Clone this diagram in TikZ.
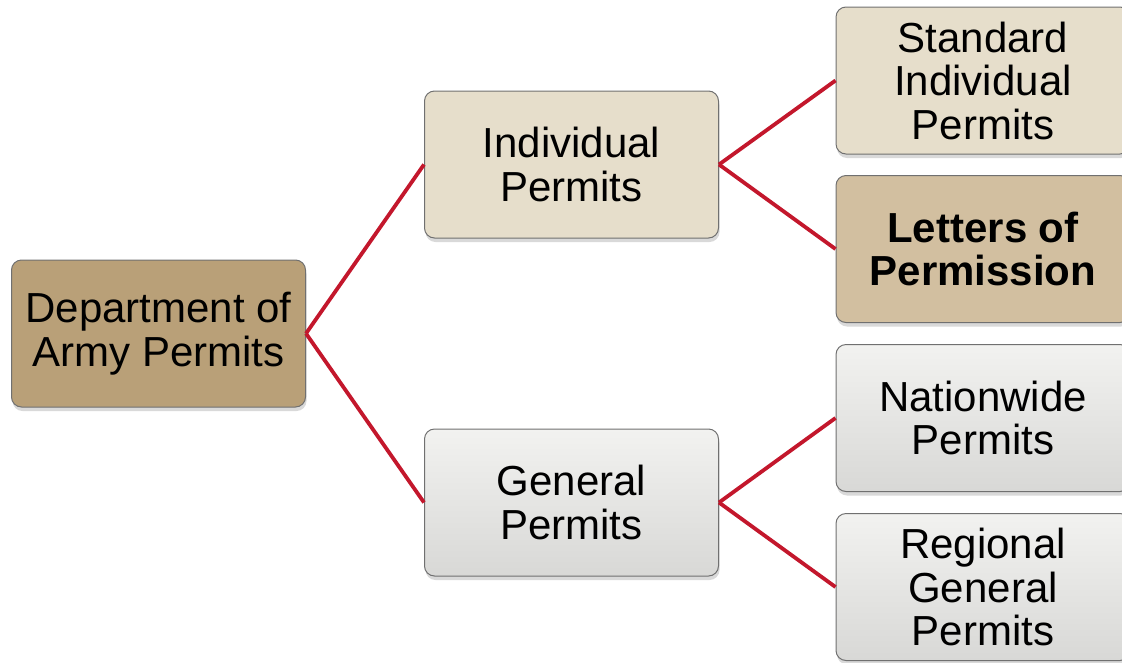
\documentclass[tikz,border=0pt]{standalone}
\usepackage{fontspec}
\setmainfont{Liberation Sans}
\usetikzlibrary{shadows}
\definecolor{tanDark}{HTML}{B9A078}
\definecolor{tanLight}{HTML}{E6DECB}
\definecolor{tanMid}{HTML}{D2BFA0}
\definecolor{grayTop}{HTML}{F2F2F0}
\definecolor{grayBot}{HTML}{D8D8D6}
\definecolor{edgeGray}{HTML}{707070}
\definecolor{connRed}{HTML}{C3172C}
\tikzset{
  box/.style={draw=edgeGray, line width=1pt, rounded corners=10pt,
    align=center, inner sep=0pt,
    font=\fontsize{42}{43.5}\selectfont,
    drop shadow={opacity=0.3, shadow xshift=1pt, shadow yshift=-4pt}},
  bigbox/.style={box, minimum width=294pt, minimum height=147pt},
  smallbox/.style={box, minimum width=294pt, minimum height=147pt},
  darkfill/.style={fill=tanDark},
  lightfill/.style={fill=tanLight},
  midfill/.style={fill=tanMid},
  grayfill/.style={top color=grayTop, bottom color=grayBot},
  conn/.style={draw=connRed, line width=3.8pt}
}
\begin{document}
\begin{tikzpicture}[x=1pt,y=-1pt]
\useasboundingbox (0,0) rectangle (1122,662);
\node[bigbox, darkfill] (dept) at (158.5,333.5) {Department of\\Army Permits};
\node[bigbox, lightfill] (ind) at (571.5,164.5) {Individual\\Permits};
\node[bigbox, grayfill] (gen) at (571.5,502.5) {General\\Permits};
\node[smallbox, lightfill] (std) at (983,80.5) {Standard\\Individual\\Permits};
\node[smallbox, midfill, font=\fontsize{42}{43.5}\selectfont\bfseries] (lop) at (983,249) {Letters of\\Permission};
\node[smallbox, grayfill] (nwp) at (983,418) {Nationwide\\Permits};
\node[smallbox, grayfill] (rgp) at (983,587) {Regional\\General\\Permits};
\draw[conn] (dept.east) -- (ind.west);
\draw[conn] (dept.east) -- (gen.west);
\draw[conn] (ind.east) -- (std.west);
\draw[conn] (ind.east) -- (lop.west);
\draw[conn] (gen.east) -- (nwp.west);
\draw[conn] (gen.east) -- (rgp.west);
\end{tikzpicture}
\end{document}
